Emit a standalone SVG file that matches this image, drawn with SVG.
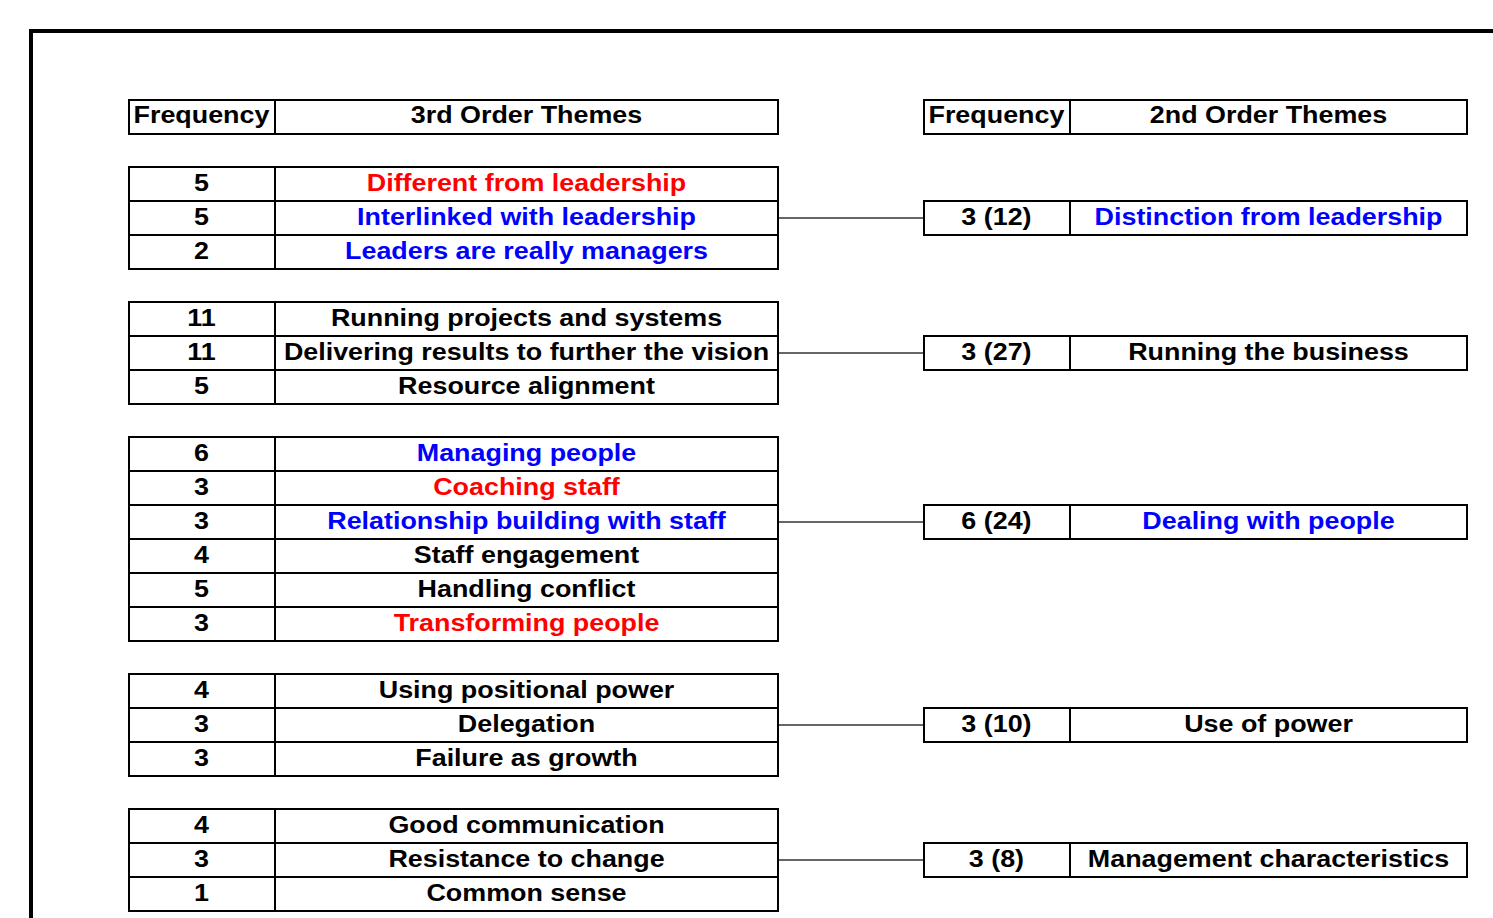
<svg xmlns="http://www.w3.org/2000/svg" width="1493" height="918" viewBox="0 0 1493 918">
<style>
.cell{fill:#fff;stroke:#000;stroke-width:2}
.t{font-family:"Liberation Sans",Arial,sans-serif;font-weight:bold;font-size:24px;text-anchor:middle;fill:#000}
.r{fill:#ff0000}
.b{fill:#0000ff}
.conn{stroke:#333;stroke-width:1.6;fill:none}
</style>
<rect width="1493" height="918" fill="#fff"/>
<path d="M31,930 V31 H1500" fill="none" stroke="#000" stroke-width="4"/>
<g id="connectors">
<line class="conn" x1="778" y1="218" x2="923" y2="218"/>
<line class="conn" x1="778" y1="353" x2="923" y2="353"/>
<line class="conn" x1="778" y1="522" x2="923" y2="522"/>
<line class="conn" x1="778" y1="725" x2="923" y2="725"/>
<line class="conn" x1="778" y1="860" x2="923" y2="860"/>
</g>
<g id="header-left">
<rect class="cell" x="129" y="100" width="146" height="34"/>
<rect class="cell" x="275" y="100" width="503" height="34"/>
<g transform="scale(1.12,1)"><text class="t" x="179.9" y="123.5">Frequency</text><text class="t" x="470.1" y="123.5">3rd Order Themes</text></g>
</g>
<g id="header-right">
<rect class="cell" x="924" y="100" width="146" height="34"/>
<rect class="cell" x="1070" y="100" width="397" height="34"/>
<g transform="scale(1.12,1)"><text class="t" x="889.7" y="123.5">Frequency</text><text class="t" x="1132.6" y="123.5">2nd Order Themes</text></g>
</g>
<g id="group1">
<rect class="cell" x="129" y="167" width="146" height="34"/><rect class="cell" x="275" y="167" width="503" height="34"/>
<rect class="cell" x="129" y="201" width="146" height="34"/><rect class="cell" x="275" y="201" width="503" height="34"/>
<rect class="cell" x="129" y="235" width="146" height="34"/><rect class="cell" x="275" y="235" width="503" height="34"/>
<g transform="scale(1.12,1)">
<text class="t" x="179.9" y="191.5">5</text><text class="t r" x="470.1" y="191.5">Different from leadership</text>
<text class="t" x="179.9" y="225.5">5</text><text class="t b" x="470.1" y="225.5">Interlinked with leadership</text>
<text class="t" x="179.9" y="259.5">2</text><text class="t b" x="470.1" y="259.5">Leaders are really managers</text>
</g>
</g>
<g id="group2">
<rect class="cell" x="129" y="302" width="146" height="34"/><rect class="cell" x="275" y="302" width="503" height="34"/>
<rect class="cell" x="129" y="336" width="146" height="34"/><rect class="cell" x="275" y="336" width="503" height="34"/>
<rect class="cell" x="129" y="370" width="146" height="34"/><rect class="cell" x="275" y="370" width="503" height="34"/>
<g transform="scale(1.12,1)">
<text class="t" x="179.9" y="326.5">11</text><text class="t" x="470.1" y="326.5">Running projects and systems</text>
<text class="t" x="179.9" y="360.5">11</text><text class="t" x="470.1" y="360.5">Delivering results to further the vision</text>
<text class="t" x="179.9" y="394.5">5</text><text class="t" x="470.1" y="394.5">Resource alignment</text>
</g>
</g>
<g id="group3">
<rect class="cell" x="129" y="437" width="146" height="34"/><rect class="cell" x="275" y="437" width="503" height="34"/>
<rect class="cell" x="129" y="471" width="146" height="34"/><rect class="cell" x="275" y="471" width="503" height="34"/>
<rect class="cell" x="129" y="505" width="146" height="34"/><rect class="cell" x="275" y="505" width="503" height="34"/>
<rect class="cell" x="129" y="539" width="146" height="34"/><rect class="cell" x="275" y="539" width="503" height="34"/>
<rect class="cell" x="129" y="573" width="146" height="34"/><rect class="cell" x="275" y="573" width="503" height="34"/>
<rect class="cell" x="129" y="607" width="146" height="34"/><rect class="cell" x="275" y="607" width="503" height="34"/>
<g transform="scale(1.12,1)">
<text class="t" x="179.9" y="461.5">6</text><text class="t b" x="470.1" y="461.5">Managing people</text>
<text class="t" x="179.9" y="495.5">3</text><text class="t r" x="470.1" y="495.5">Coaching staff</text>
<text class="t" x="179.9" y="529.5">3</text><text class="t b" x="470.1" y="529.5">Relationship building with staff</text>
<text class="t" x="179.9" y="563.5">4</text><text class="t" x="470.1" y="563.5">Staff engagement</text>
<text class="t" x="179.9" y="597.5">5</text><text class="t" x="470.1" y="597.5">Handling conflict</text>
<text class="t" x="179.9" y="631.5">3</text><text class="t r" x="470.1" y="631.5">Transforming people</text>
</g>
</g>
<g id="group4">
<rect class="cell" x="129" y="674" width="146" height="34"/><rect class="cell" x="275" y="674" width="503" height="34"/>
<rect class="cell" x="129" y="708" width="146" height="34"/><rect class="cell" x="275" y="708" width="503" height="34"/>
<rect class="cell" x="129" y="742" width="146" height="34"/><rect class="cell" x="275" y="742" width="503" height="34"/>
<g transform="scale(1.12,1)">
<text class="t" x="179.9" y="698.5">4</text><text class="t" x="470.1" y="698.5">Using positional power</text>
<text class="t" x="179.9" y="732.5">3</text><text class="t" x="470.1" y="732.5">Delegation</text>
<text class="t" x="179.9" y="766.5">3</text><text class="t" x="470.1" y="766.5">Failure as growth</text>
</g>
</g>
<g id="group5">
<rect class="cell" x="129" y="809" width="146" height="34"/><rect class="cell" x="275" y="809" width="503" height="34"/>
<rect class="cell" x="129" y="843" width="146" height="34"/><rect class="cell" x="275" y="843" width="503" height="34"/>
<rect class="cell" x="129" y="877" width="146" height="34"/><rect class="cell" x="275" y="877" width="503" height="34"/>
<g transform="scale(1.12,1)">
<text class="t" x="179.9" y="833.5">4</text><text class="t" x="470.1" y="833.5">Good communication</text>
<text class="t" x="179.9" y="867.5">3</text><text class="t" x="470.1" y="867.5">Resistance to change</text>
<text class="t" x="179.9" y="901.5">1</text><text class="t" x="470.1" y="901.5">Common sense</text>
</g>
</g>
<g id="theme1">
<rect class="cell" x="924" y="201" width="146" height="34"/><rect class="cell" x="1070" y="201" width="397" height="34"/>
<g transform="scale(1.12,1)"><text class="t" x="889.7" y="225.5">3 (12)</text><text class="t b" x="1132.6" y="225.5">Distinction from leadership</text></g>
</g>
<g id="theme2">
<rect class="cell" x="924" y="336" width="146" height="34"/><rect class="cell" x="1070" y="336" width="397" height="34"/>
<g transform="scale(1.12,1)"><text class="t" x="889.7" y="360.5">3 (27)</text><text class="t" x="1132.6" y="360.5">Running the business</text></g>
</g>
<g id="theme3">
<rect class="cell" x="924" y="505" width="146" height="34"/><rect class="cell" x="1070" y="505" width="397" height="34"/>
<g transform="scale(1.12,1)"><text class="t" x="889.7" y="529.5">6 (24)</text><text class="t b" x="1132.6" y="529.5">Dealing with people</text></g>
</g>
<g id="theme4">
<rect class="cell" x="924" y="708" width="146" height="34"/><rect class="cell" x="1070" y="708" width="397" height="34"/>
<g transform="scale(1.12,1)"><text class="t" x="889.7" y="732.5">3 (10)</text><text class="t" x="1132.6" y="732.5">Use of power</text></g>
</g>
<g id="theme5">
<rect class="cell" x="924" y="843" width="146" height="34"/><rect class="cell" x="1070" y="843" width="397" height="34"/>
<g transform="scale(1.12,1)"><text class="t" x="889.7" y="867.5">3 (8)</text><text class="t" x="1132.6" y="867.5">Management characteristics</text></g>
</g>
</svg>
